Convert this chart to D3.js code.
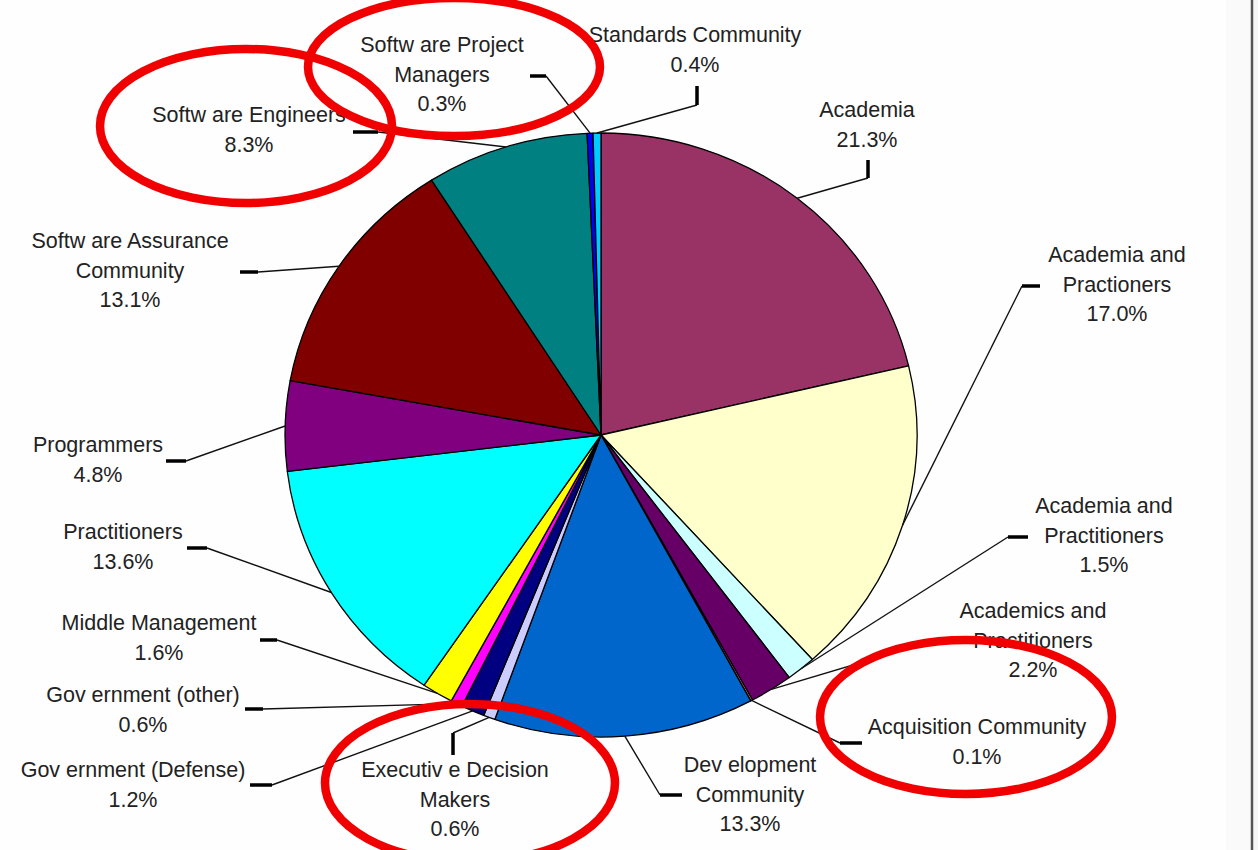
<!DOCTYPE html>
<html>
<head>
<meta charset="utf-8">
<script src="https://cdn.jsdelivr.net/npm/d3@7"></script>
<style>
  html, body { margin: 0; padding: 0; background: #fff; }
  svg { display: block; }
</style>
</head>
<body>
<svg id="chart" width="1258" height="850"></svg>
<script>
// Audience breakdown, clockwise from twelve o'clock
const categories = [
  "Academia", "Academia and Practioners", "Academia and Practitioners",
  "Academics and Practitioners", "Acquisition Community", "Development Community",
  "Executive Decision Makers", "Government (Defense)", "Government (other)",
  "Middle Management", "Practitioners", "Programmers",
  "Software Assurance Community", "Software Engineers",
  "Software Project Managers", "Standards Community"
];
const shares = [21.3, 17.0, 1.5, 2.2, 0.1, 13.3, 0.6, 1.2, 0.6, 1.6, 13.6, 4.8, 13.1, 8.3, 0.3, 0.4];

// Label text as typeset next to each slice (percentage line is added from shares)
const labelLines = [
  ["Academia"], ["Academia and", "Practioners"], ["Academia and", "Practitioners"],
  ["Academics and", "Practitioners"], ["Acquisition Community"], ["Dev elopment", "Community"],
  ["Executiv e Decision", "Makers"], ["Gov ernment (Defense)"], ["Gov ernment (other)"],
  ["Middle Management"], ["Practitioners"], ["Programmers"],
  ["Softw are Assurance", "Community"], ["Softw are Engineers"],
  ["Softw are Project", "Managers"], ["Standards Community"]
];

// Classic spreadsheet palette, one colour per slice
const sliceColors = [
  "#993366", "#FFFFCC", "#CCFFFF", "#660066", "#FF8080", "#0066CC",
  "#CCCCFF", "#000080", "#FF00FF", "#FFFF00", "#00FFFF", "#800080",
  "#800000", "#008080", "#0000FF", "#00CCFF"
];

// Label placement: text centre x, first baseline y, and the short heavy tick
// (its second point is where the thin leader to the slice begins)
const labelLayout = [
  { x: 867,  y: 117, tick: [868, 160, 868, 178] },
  { x: 1117, y: 262, tick: [1040, 286, 1022, 286] },
  { x: 1104, y: 513, tick: [1028, 537, 1008, 537] },
  { x: 1033, y: 618, tick: [946, 642, 930, 642] },
  { x: 977,  y: 734, tick: [862, 743, 840, 743] },
  { x: 750,  y: 772, tick: [682, 795, 660, 795] },
  { x: 455,  y: 777, tick: [453, 755, 453, 733] },
  { x: 133,  y: 777, tick: [250, 785, 272, 785] },
  { x: 143,  y: 702, tick: [245, 709, 263, 709] },
  { x: 159,  y: 630, tick: [260, 640, 277, 640] },
  { x: 123,  y: 539, tick: [187, 548, 207, 548] },
  { x: 98,   y: 452, tick: [166, 461, 186, 461] },
  { x: 130,  y: 248, tick: [240, 272, 258, 272] },
  { x: 249,  y: 122, tick: [353, 132, 378, 132] },
  { x: 442,  y: 52,  tick: [530, 76, 546, 76] },
  { x: 695,  y: 42,  tick: [697, 86, 697, 105] }
];

// Hand-drawn style red rings marking selected groups
const highlightRings = [
  { cx: 246, cy: 126, rx: 146, ry: 77 },
  { cx: 454, cy: 67,  rx: 146, ry: 69 },
  { cx: 470, cy: 783, rx: 145, ry: 79 },
  { cx: 966, cy: 717, rx: 146, ry: 77 }
];

const svg = d3.select("#chart");
const W = 1258, H = 850;

// page background and right-hand page edge
svg.append("rect").attr("width", W).attr("height", H).attr("fill", "#fefefe");
svg.append("rect").attr("x", 1226).attr("y", 0).attr("width", 25).attr("height", H).attr("fill", "#fafafa");
svg.append("rect").attr("x", 1253).attr("y", 0).attr("width", 5).attr("height", H).attr("fill", "#f6f6f6");
svg.append("line").attr("x1", 1252).attr("x2", 1252).attr("y1", 0).attr("y2", H)
  .attr("stroke", "#555").attr("stroke-width", 2.5);

// pie geometry (slightly wider than tall)
const cx = 601, cy = 435, rx = 316, ry = 302;
const sx = rx / ry;

const pie = d3.pie().sort(null).value(d => d);
const arcs = pie(shares);
const arc = d3.arc().innerRadius(0).outerRadius(ry);
const edge = d3.arc().innerRadius(ry).outerRadius(ry);

const pieG = svg.append("g")
  .attr("transform", `translate(${cx},${cy}) scale(${sx},1)`);

pieG.selectAll("path.slice")
  .data(arcs)
  .join("path")
  .attr("class", "slice")
  .attr("d", arc)
  .attr("fill", (d, i) => sliceColors[i])
  .attr("stroke", "#000")
  .attr("stroke-width", 1.3)
  .attr("stroke-linejoin", "round")
  .attr("vector-effect", "non-scaling-stroke");

// leader lines: heavy tick near the label, thin line to the slice rim
const leaders = svg.append("g");
arcs.forEach((a, i) => {
  const lay = labelLayout[i];
  const [ex, ey] = edge.centroid(a);
  const px = cx + ex * sx, py = cy + ey;
  const [t1x, t1y, t2x, t2y] = lay.tick;
  leaders.append("line")
    .attr("x1", t2x).attr("y1", t2y).attr("x2", px).attr("y2", py)
    .attr("stroke", "#111").attr("stroke-width", 1.4);
  leaders.append("line")
    .attr("x1", t1x).attr("y1", t1y).attr("x2", t2x).attr("y2", t2y)
    .attr("stroke", "#000").attr("stroke-width", 3.5);
});

// labels: name lines followed by the percentage
const labels = svg.append("g")
  .attr("font-family", "'Liberation Sans', Arial, Helvetica, sans-serif")
  .attr("font-size", 21.5)
  .attr("fill", "#222")
  .attr("text-anchor", "middle");

arcs.forEach((a, i) => {
  const lay = labelLayout[i];
  const lines = labelLines[i].concat([`${shares[i].toFixed(1)}%`]);
  const t = labels.append("text").attr("x", lay.x).attr("y", lay.y);
  lines.forEach((ln, j) => {
    t.append("tspan").attr("x", lay.x).attr("dy", j === 0 ? 0 : 29.5).text(ln);
  });
});

// red rings on top
svg.append("g").selectAll("ellipse")
  .data(highlightRings)
  .join("ellipse")
  .attr("cx", d => d.cx).attr("cy", d => d.cy)
  .attr("rx", d => d.rx).attr("ry", d => d.ry)
  .attr("fill", "none")
  .attr("stroke", "#f00000")
  .attr("stroke-width", 8.5);
</script>
</body>
</html>
